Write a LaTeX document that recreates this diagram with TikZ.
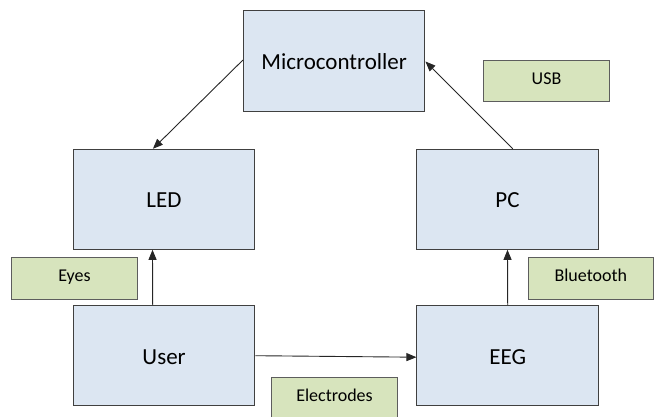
\documentclass[tikz,border=0pt]{standalone}
\usepackage{fontspec}
\setmainfont{Carlito}
\usetikzlibrary{arrows.meta}
\definecolor{boxblue}{HTML}{DCE6F2}
\definecolor{boxgreen}{HTML}{D7E4BD}
\definecolor{edgegray}{HTML}{404040}
\begin{document}
\begin{tikzpicture}[x=1pt,y=-1pt,
  bigbox/.style={draw=edgegray, line width=1pt, fill=boxblue, minimum width=181.5pt, minimum height=100pt, inner sep=0pt, text height=20pt, text depth=3pt, font=\fontsize{23}{26}\selectfont},
  tagbox/.style={draw=edgegray!85, line width=1pt, fill=boxgreen, minimum width=125.5pt, minimum height=41.7pt, inner sep=0pt, text height=13pt, text depth=6pt, font=\fontsize{18}{21}\selectfont},
  link/.style={draw=black!85, line width=0.9pt, -{Triangle[length=10pt,width=8pt]}}]
\useasboundingbox (0,0) rectangle (655,417);
\node[bigbox, minimum height=101pt] (mcu) at (334.2,61.5) {Microcontroller};
\node[bigbox] (led) at (163.9,199.3) {LED};
\node[bigbox] (pc) at (507.5,199.3) {PC};
\node[bigbox] (user) at (164.1,355.7) {User};
\node[bigbox] (eeg) at (507.7,355.7) {EEG};
\node[tagbox] (usb) at (546.5,81) {USB};
\node[tagbox] (eyes) at (74.5,278.2) {Eyes};
\node[tagbox] (bt) at (590.8,278.2) {Bluetooth};
\node[tagbox] (el) at (334.5,398.2) {Electrodes};
\draw[link] ([yshift=1.5pt]mcu.west) -- ([xshift=-11pt]led.north);
\draw[link] ([xshift=5.4pt]pc.north) -- (mcu.east);
\draw[link] ([xshift=-11.4pt]user.north) -- ([xshift=-11.4pt]led.south);
\draw[link] (eeg.north) -- (pc.south);
\draw[link] (user.east) -- ([yshift=-1.5pt]eeg.west);
\end{tikzpicture}
\end{document}
